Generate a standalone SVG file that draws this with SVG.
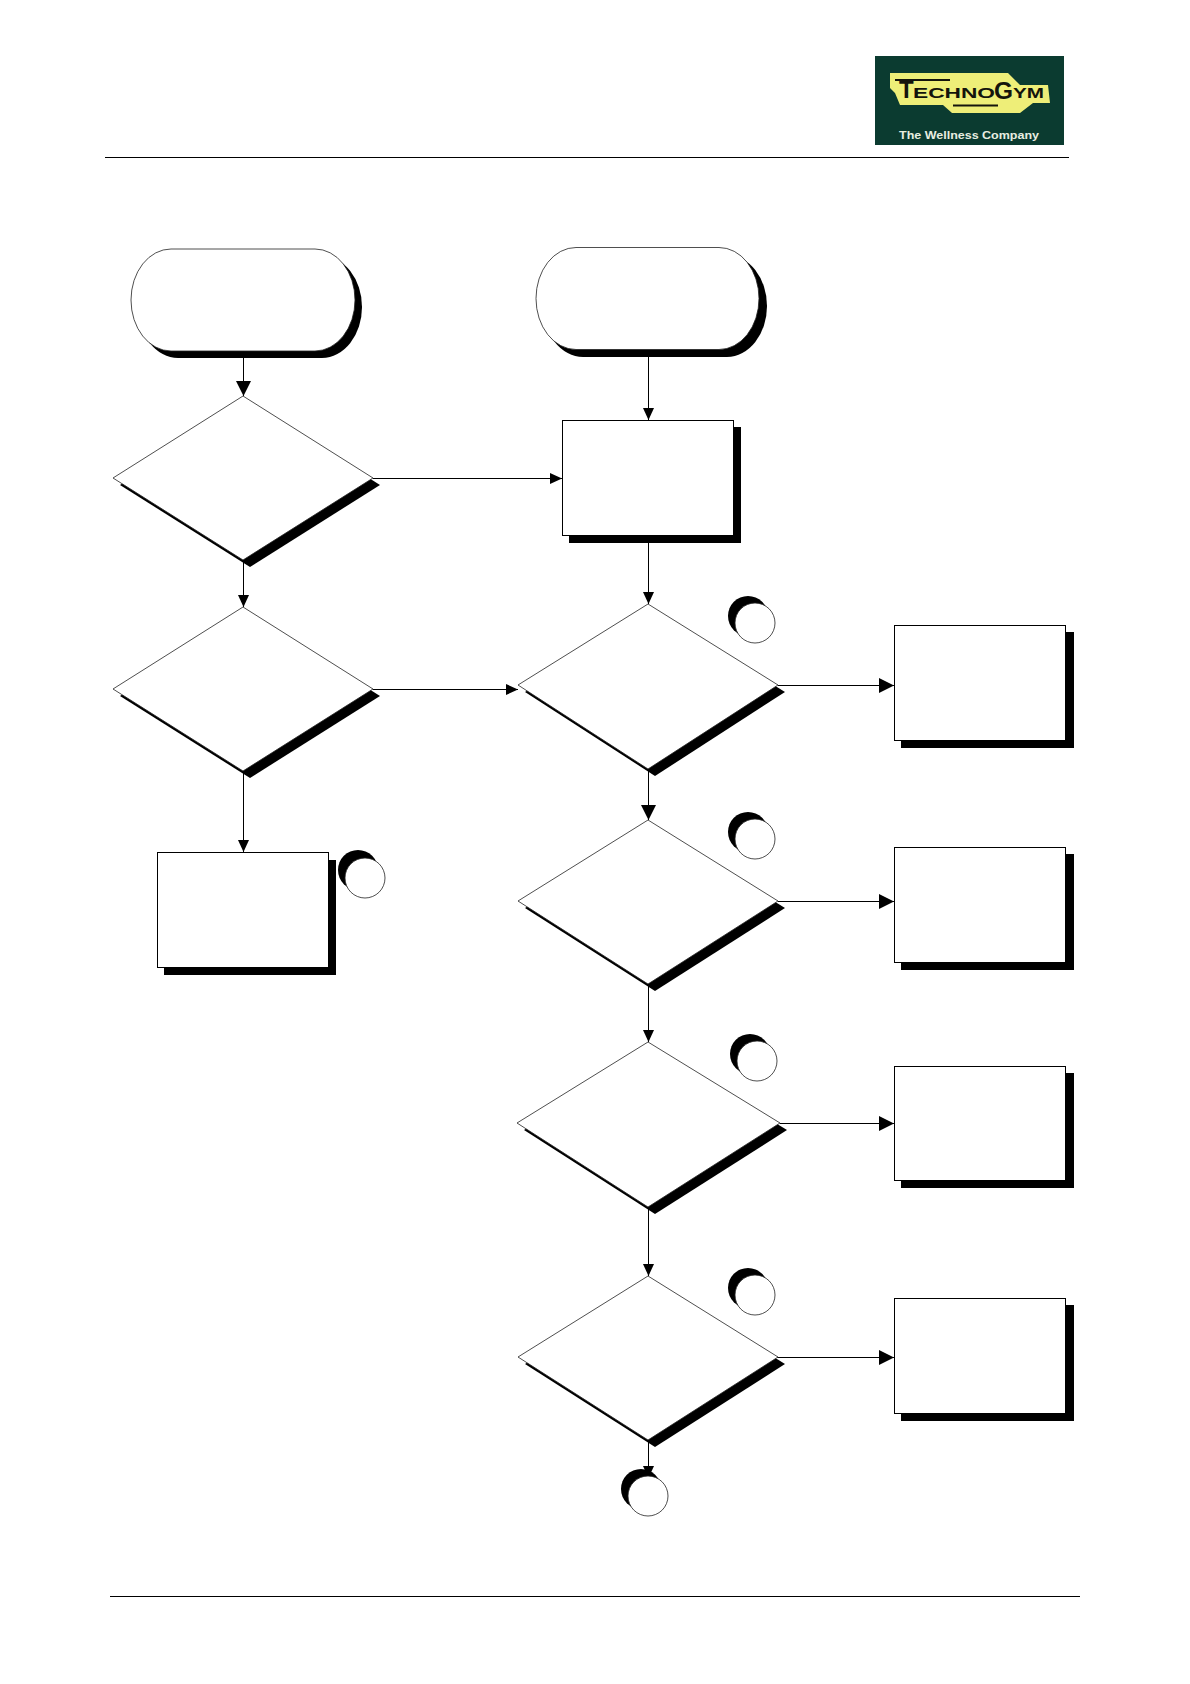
<svg xmlns="http://www.w3.org/2000/svg" width="1190" height="1684" viewBox="0 0 1190 1684">
<style>
.s{fill:#000;stroke:none}
.n{fill:#fff;stroke:#222;stroke-width:.8}
.b{fill:#fff;stroke:#000;stroke-width:1}
.c{fill:none;stroke:#000;stroke-width:1}
.t{font-family:"Liberation Sans",Arial,sans-serif;font-weight:bold}
</style>
<defs>
<marker id="a" markerUnits="userSpaceOnUse" markerWidth="13" markerHeight="13" refX="12" refY="6.500" orient="auto"><path d="M0 1L12 6.500L0 12Z" fill="#000"/></marker>
<marker id="b" markerUnits="userSpaceOnUse" markerWidth="16" markerHeight="16" refX="15" refY="8" orient="auto"><path d="M0 .5L15 8L0 15.500Z" fill="#000"/></marker>
</defs>
<rect width="1190" height="1684" fill="#fff"/>
<g id="header">
<rect x="875" y="56" width="189" height="89" fill="#0b3b30"/>
<path d="M890 73H1008L1020 85H1048L1050 103H1033L1020 113H952L943 105H900L895 93L890 88Z" fill="#eeee78"/>
<path d="M895 80H950M953 105.500H998" stroke="#14140c" stroke-width="2" fill="none"/>
<g class="t" fill="#14140c">
<text x="899" y="98" font-size="24">T</text>
<text x="913" y="98" font-size="15" textLength="82" lengthAdjust="spacingAndGlyphs">ECHNO</text>
<text x="994" y="99" font-size="24" textLength="19" lengthAdjust="spacingAndGlyphs">G</text>
<text x="1013" y="98" font-size="15" textLength="31" lengthAdjust="spacingAndGlyphs">YM</text>
</g>
<text class="t" x="899" y="139" font-size="11" fill="#e8eee0" textLength="140" lengthAdjust="spacingAndGlyphs">The Wellness Company</text>
<path class="c" d="M105 157.500H1069"/>
<path class="c" d="M110 1596.500H1080"/>
</g>
<g id="connectors">
<path class="c" d="M243.500 351V396" marker-end="url(#b)"/>
<path class="c" d="M243.500 560V607" marker-end="url(#a)"/>
<path class="c" d="M243.500 771V852" marker-end="url(#a)"/>
<path class="c" d="M373 478.500H562" marker-end="url(#a)"/>
<path class="c" d="M373 689.500H518" marker-end="url(#a)"/>
<path class="c" d="M648.500 350V420" marker-end="url(#a)"/>
<path class="c" d="M648.500 535V604" marker-end="url(#a)"/>
<path class="c" d="M648.500 769V820" marker-end="url(#b)"/>
<path class="c" d="M648.500 984V1042" marker-end="url(#a)"/>
<path class="c" d="M648.500 1207V1276" marker-end="url(#a)"/>
<path class="c" d="M648.500 1440V1478" marker-end="url(#a)"/>
<path class="c" d="M778 685.500H894" marker-end="url(#b)"/>
<path class="c" d="M778 901.500H894" marker-end="url(#b)"/>
<path class="c" d="M780 1123.500H894" marker-end="url(#b)"/>
<path class="c" d="M777 1357.500H894" marker-end="url(#b)"/>
</g>
<g id="pill-1"><rect class="s" x="138" y="256" width="224" height="102" rx="40" ry="51"/><rect class="n" x="131" y="249" width="224" height="102" rx="40" ry="51"/></g>
<g id="pill-2"><rect class="s" x="543" y="255" width="224" height="102" rx="40" ry="51"/><rect class="n" x="536" y="247.500" width="223" height="102" rx="40" ry="51"/></g>
<g id="diamond-1"><path class="s" d="M250 403L380 485L250 567L120 485Z"/><path class="n" d="M243 396L373 478L243 560L113 478Z"/></g>
<g id="diamond-2"><path class="s" d="M250 614L380 696L250 778L120 696Z"/><path class="n" d="M243 607L373 689L243 771L113 689Z"/></g>
<g id="diamond-3"><path class="s" d="M655 611L785 692L655 776L525 692Z"/><path class="n" d="M648 604L778 685L648 769L518 685Z"/></g>
<g id="diamond-4"><path class="s" d="M655 827L785 908L655 991L525 908Z"/><path class="n" d="M648 820L778 901L648 984L518 901Z"/></g>
<g id="diamond-5"><path class="s" d="M655 1049L787 1130L655 1214L524 1130Z"/><path class="n" d="M648 1042L780 1123L648 1207L517 1123Z"/></g>
<g id="diamond-6"><path class="s" d="M655 1283L785 1364L655 1447L525 1364Z"/><path class="n" d="M648 1276L778 1357L648 1440L518 1357Z"/></g>
<g id="box-1"><rect class="s" x="569" y="427" width="172" height="116"/><rect class="b" x="562.500" y="420.500" width="171" height="115"/></g>
<g id="box-2"><rect class="s" x="164" y="860" width="172" height="115"/><rect class="b" x="157.500" y="852.500" width="171" height="115"/></g>
<g id="box-3"><rect class="s" x="901" y="632" width="173" height="116"/><rect class="b" x="894.500" y="625.500" width="171" height="115"/></g>
<g id="box-4"><rect class="s" x="901" y="854" width="173" height="116"/><rect class="b" x="894.500" y="847.500" width="171" height="115"/></g>
<g id="box-5"><rect class="s" x="901" y="1073" width="173" height="115"/><rect class="b" x="894.500" y="1066.500" width="171" height="114"/></g>
<g id="box-6"><rect class="s" x="901" y="1305" width="173" height="116"/><rect class="b" x="894.500" y="1298.500" width="171" height="115"/></g>
<g id="circle-1"><circle class="s" cx="748" cy="616" r="20"/><circle class="n" cx="755" cy="623" r="20"/></g>
<g id="circle-2"><circle class="s" cx="748" cy="832" r="20"/><circle class="n" cx="755" cy="839" r="20"/></g>
<g id="circle-3"><circle class="s" cx="750" cy="1054" r="20"/><circle class="n" cx="757" cy="1061" r="20"/></g>
<g id="circle-4"><circle class="s" cx="748" cy="1288" r="20"/><circle class="n" cx="755" cy="1295" r="20"/></g>
<g id="circle-5"><circle class="s" cx="641" cy="1489" r="20"/><circle class="n" cx="648" cy="1496" r="20"/></g>
<g id="circle-6"><circle class="s" cx="358" cy="870" r="20"/><circle class="n" cx="365" cy="878" r="20"/></g>
</svg>
